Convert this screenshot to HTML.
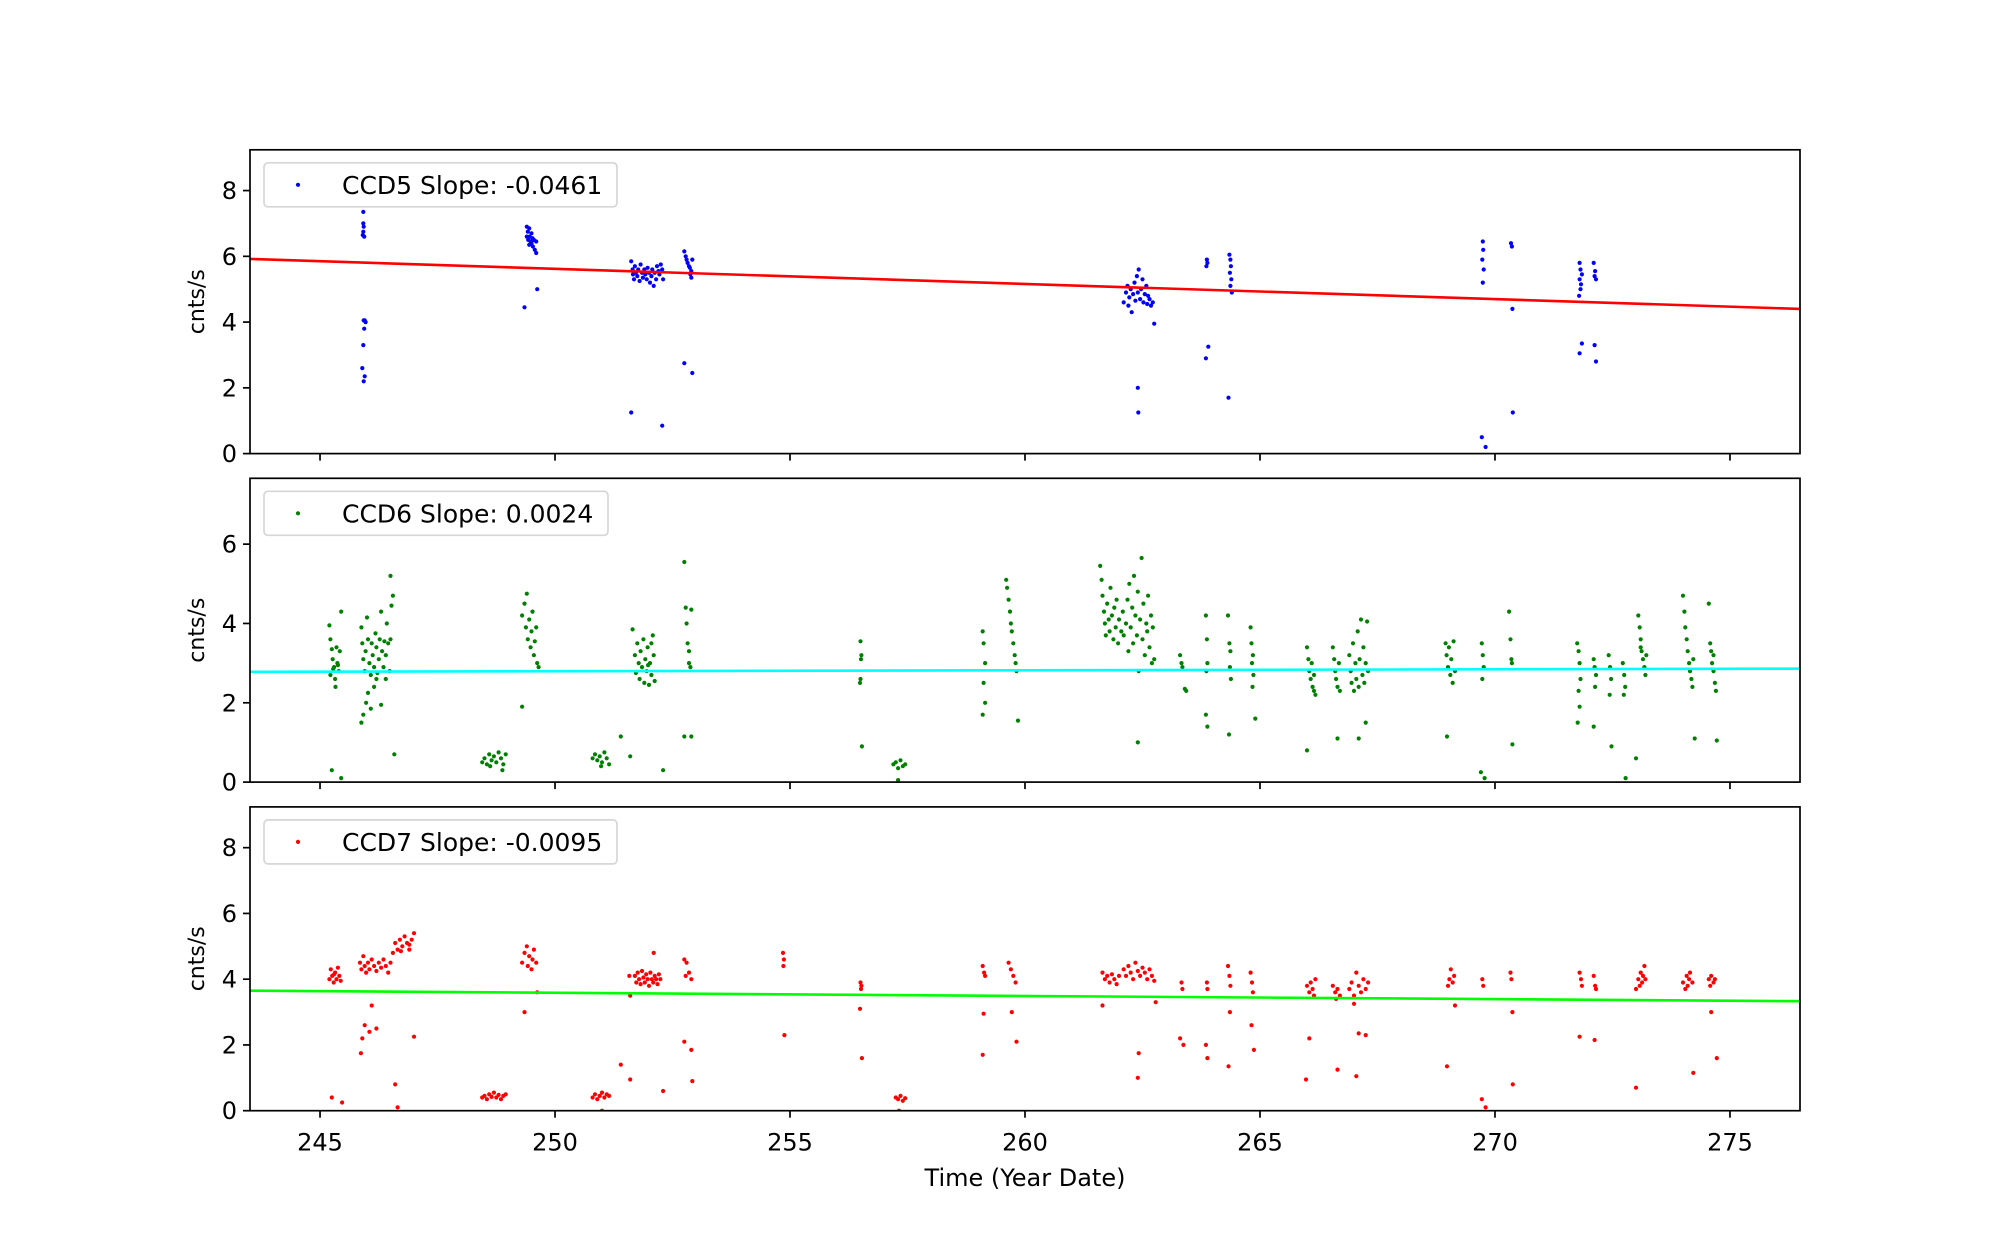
<!DOCTYPE html>
<html><head><meta charset="utf-8"><style>
html,body{margin:0;padding:0;background:#fff;}
svg{display:block;font-family:"DejaVu Sans","Liberation Sans",sans-serif;}
</style></head><body>
<svg id="chart" width="2000" height="1248" viewBox="0 0 2000 1248">
<rect width="2000" height="1248" fill="#fff"/>
</svg>
<script>
const xTicks = [245, 250, 255, 260, 265, 270, 275];
const yTicks1 = [0, 2, 4, 6, 8];
const yTicks2 = [0, 2, 4, 6];
const yTicks3 = [0, 2, 4, 6, 8];
const legendLabels = ["CCD5 Slope: -0.0461", "CCD6 Slope: 0.0024", "CCD7 Slope: -0.0095"];
const fit1 = [[243.51, 5.92], [276.49, 4.40]];
const fit2 = [[243.51, 2.78], [276.49, 2.86]];
const fit3 = [[243.51, 3.65], [276.49, 3.33]];
const ccd5 = [
[245.92,7.35],[245.92,7.0],[245.93,6.9],[245.92,6.75],[245.91,6.65],[245.94,6.6],[245.93,4.05],[245.95,4.05],[245.97,4.0],[245.94,3.8],[245.92,3.3],[245.9,2.6],[245.95,2.35],[245.93,2.2],
[249.4,6.9],[249.45,6.85],[249.42,6.75],[249.5,6.7],[249.4,6.6],[249.46,6.6],[249.52,6.55],[249.43,6.5],[249.48,6.45],[249.55,6.5],[249.5,6.4],[249.45,6.35],[249.53,6.3],[249.6,6.45],[249.57,6.2],[249.6,6.1],[249.35,4.45],[249.62,5.0],
[251.62,5.85],[251.65,5.6],[251.66,5.45],[251.68,5.3],[251.7,5.7],[251.72,5.5],[251.75,5.4],[251.77,5.6],[251.8,5.25],[251.82,5.75],[251.85,5.5],[251.87,5.35],[251.9,5.6],[251.92,5.45],[251.95,5.3],[251.97,5.65],[252.0,5.5],[252.02,5.2],[252.05,5.4],[252.07,5.6],[252.1,5.1],[252.12,5.5],[252.15,5.3],[252.17,5.7],[252.2,5.55],[252.22,5.45],[252.25,5.75],[252.28,5.6],[252.3,5.3],[251.62,1.25],[252.28,0.85],
[252.75,6.15],[252.78,6.0],[252.8,5.9],[252.82,5.8],[252.85,5.7],[252.87,5.65],[252.9,5.55],[252.92,5.9],[252.88,5.45],[252.9,5.35],[252.75,2.75],[252.92,2.45],
[262.1,4.6],[262.15,4.9],[262.18,5.1],[262.2,4.5],[262.22,4.75],[262.25,5.0],[262.27,4.3],[262.3,4.85],[262.33,5.2],[262.35,4.65],[262.38,5.4],[262.4,4.9],[262.42,5.6],[262.45,4.7],[262.47,5.0],[262.5,5.3],[262.52,4.6],[262.55,4.85],[262.58,5.1],[262.6,4.55],[262.62,4.8],[262.65,4.7],[262.68,4.5],[262.72,4.6],[262.4,2.0],[262.41,1.25],[262.75,3.95],
[263.87,5.9],[263.88,5.8],[263.86,5.7],[263.9,3.25],[263.85,2.9],[264.35,6.05],[264.37,5.9],[264.38,5.7],[264.36,5.5],[264.39,5.3],[264.37,5.1],[264.4,4.9],[264.33,1.7],
[269.74,6.45],[269.75,6.2],[269.73,5.9],[269.76,5.6],[269.74,5.2],[269.72,0.5],[269.8,0.2],[270.34,6.4],[270.36,6.3],[270.37,4.4],[270.38,1.25],
[271.8,5.8],[271.82,5.6],[271.85,5.45],[271.8,5.3],[271.83,5.15],[271.82,5.0],[271.79,4.8],[271.85,3.35],[271.8,3.05],[272.1,5.8],[272.13,5.55],[272.12,5.4],[272.15,5.3],[272.12,3.3],[272.15,2.8]
];
const ccd6 = [
[245.2,3.95],[245.22,3.6],[245.25,3.35],[245.27,3.1],[245.3,2.9],[245.22,2.7],[245.32,2.6],[245.35,3.4],[245.37,3.0],[245.28,2.85],[245.4,2.8],[245.42,3.3],[245.45,4.3],[245.33,2.4],[245.38,2.95],[245.25,0.3],[245.45,0.1],
[245.88,3.9],[245.9,3.5],[245.92,3.1],[245.95,2.8],[245.97,3.3],[246.0,4.15],[246.02,3.6],[246.05,3.0],[246.08,2.7],[246.1,3.5],[246.12,3.2],[246.15,2.9],[246.18,3.75],[246.2,3.4],[246.22,2.75],[246.25,3.1],[246.27,3.6],[246.3,4.3],[246.32,3.3],[246.35,2.9],[246.37,3.55],[246.4,3.2],[246.42,4.0],[246.45,3.5],[246.48,2.8],[246.5,3.6],[246.52,4.45],[246.55,4.7],[246.5,5.2],[245.88,1.5],[245.92,1.7],[245.98,2.0],[246.02,2.25],[246.08,1.85],[246.15,2.4],[246.2,2.6],[246.3,1.95],[246.4,2.6],[246.58,0.7],
[248.45,0.5],[248.5,0.6],[248.55,0.45],[248.6,0.7],[248.65,0.55],[248.7,0.65],[248.75,0.5],[248.8,0.75],[248.85,0.6],[248.9,0.45],[248.95,0.7],[248.62,0.4],[248.88,0.3],
[249.3,4.2],[249.35,4.5],[249.4,4.75],[249.38,3.9],[249.42,3.6],[249.45,4.1],[249.48,3.4],[249.5,3.8],[249.52,4.3],[249.55,3.2],[249.57,3.55],[249.6,3.9],[249.62,3.0],[249.65,2.9],[249.3,1.9],
[250.8,0.6],[250.85,0.7],[250.9,0.55],[250.95,0.65],[251.0,0.5],[251.05,0.75],[251.1,0.6],[251.15,0.45],[250.98,0.4],
[251.4,1.15],[251.6,0.65],[251.65,3.85],[251.7,3.2],[251.72,2.75],[251.75,3.5],[251.78,3.0],[251.8,2.6],[251.82,3.3],[251.85,2.9],[251.88,3.6],[251.9,2.5],[251.92,3.1],[251.95,2.8],[251.97,3.4],[252.0,2.45],[252.02,3.0],[252.05,2.7],[252.08,3.7],[252.1,3.2],[252.12,2.55],[252.05,3.5],[251.98,2.95],[252.3,0.3],
[252.75,5.55],[252.78,4.4],[252.8,4.0],[252.82,3.5],[252.85,3.0],[252.88,2.9],[252.9,4.35],[252.85,3.3],[252.75,1.15],[252.9,1.15],
[256.5,3.55],[256.52,3.2],[256.51,3.1],[256.5,2.6],[256.49,2.5],[256.53,0.9],
[257.2,0.45],[257.25,0.5],[257.3,0.35],[257.35,0.55],[257.4,0.4],[257.45,0.45],[257.3,0.05],
[259.1,3.8],[259.12,3.5],[259.15,3.0],[259.12,2.5],[259.15,2.0],[259.1,1.7],
[259.6,5.1],[259.62,4.9],[259.65,4.6],[259.68,4.3],[259.7,4.0],[259.72,3.8],[259.75,3.5],[259.78,3.2],[259.8,3.0],[259.82,2.8],[259.85,1.55],
[261.6,5.45],[261.63,5.1],[261.65,4.7],[261.68,4.3],[261.7,4.0],[261.72,3.7],[261.75,4.5],[261.78,4.1],[261.8,3.8],[261.82,4.9],[261.85,4.2],[261.88,3.6],[261.9,4.4],[261.93,3.9],[261.95,4.6],[261.98,3.5],[262.0,4.1],[262.05,3.8],[262.08,4.3],[262.1,3.7],
[262.15,4.0],[262.18,4.6],[262.2,3.3],[262.22,5.0],[262.25,3.9],[262.28,4.4],[262.3,3.5],[262.32,5.2],[262.35,4.2],[262.38,3.7],[262.4,4.8],[262.42,2.8],[262.45,4.1],[262.48,5.65],[262.5,3.6],[262.52,4.5],[262.55,3.2],[262.58,4.0],[262.6,3.8],[262.62,4.7],[262.65,3.4],[262.68,4.2],[262.7,3.0],[262.72,3.9],[262.75,3.1],[262.4,1.0],
[263.3,3.2],[263.33,3.0],[263.35,2.9],[263.4,2.35],[263.43,2.3],
[263.85,4.2],[263.87,3.6],[263.88,3.0],[263.86,2.8],[263.85,1.7],[263.88,1.4],
[264.32,4.2],[264.35,3.5],[264.37,3.3],[264.36,2.9],[264.38,2.6],[264.34,1.2],
[264.8,3.9],[264.82,3.5],[264.85,3.2],[264.83,3.0],[264.86,2.7],[264.84,2.4],[264.9,1.6],
[266.0,3.4],[266.03,3.1],[266.05,2.8],[266.08,2.6],[266.1,3.0],[266.12,2.4],[266.15,2.7],[266.18,2.2],[266.0,0.8],[266.15,2.3],
[266.55,3.4],[266.58,3.1],[266.6,2.8],[266.62,2.6],[266.65,2.4],[266.68,3.0],[266.7,2.3],[266.65,1.1],
[266.9,3.2],[266.93,2.8],[266.95,2.5],[266.98,3.5],[267.0,2.3],[267.03,3.0],[267.05,2.6],[267.08,3.8],[267.1,2.4],[267.12,3.1],[267.15,4.1],[267.18,2.7],[267.2,3.4],[267.22,2.5],[267.25,3.0],[267.28,4.05],[267.3,2.8],[267.1,1.1],[267.25,1.5],
[268.95,3.5],[268.97,3.2],[269.0,2.9],[269.02,3.4],[269.05,2.7],[269.07,3.1],[269.1,2.5],[269.12,3.55],[269.15,2.8],[268.98,1.15],
[269.72,3.5],[269.74,3.2],[269.76,2.9],[269.73,2.6],[269.7,0.25],[269.78,0.1],
[270.3,4.3],[270.33,3.6],[270.35,3.1],[270.36,3.0],[270.37,0.95],
[271.75,3.5],[271.78,3.3],[271.8,3.0],[271.82,2.6],[271.78,2.3],[271.8,1.9],[271.76,1.5],
[272.1,3.1],[272.12,2.9],[272.15,2.7],[272.13,2.4],[272.1,1.4],
[272.42,3.2],[272.45,2.9],[272.47,2.6],[272.44,2.2],[272.48,0.9],
[272.72,3.0],[272.75,2.7],[272.77,2.4],[272.74,2.2],[272.78,0.1],
[273.0,0.6],[273.05,4.2],[273.08,3.9],[273.1,3.6],[273.12,3.3],[273.15,3.1],[273.18,2.9],[273.2,2.7],[273.1,3.4],[273.22,3.2],
[274.0,4.7],[274.03,4.3],[274.05,3.9],[274.08,3.6],[274.1,3.3],[274.13,3.0],[274.15,2.8],[274.18,2.6],[274.2,2.4],[274.22,3.1],[274.25,1.1],
[274.55,4.5],[274.58,3.5],[274.6,3.3],[274.62,3.0],[274.65,2.8],[274.68,2.5],[274.7,2.3],[274.65,3.2],[274.72,1.05]
];
const ccd7 = [
[245.2,4.0],[245.23,4.3],[245.26,4.1],[245.29,3.9],[245.32,4.2],[245.35,4.0],[245.38,4.35],[245.41,4.1],[245.44,3.95],[245.3,4.15],[245.25,0.4],[245.47,0.25],
[245.85,4.5],[245.88,4.3],[245.92,4.7],[245.95,4.4],[245.98,4.2],[246.02,4.5],[246.05,4.3],[246.1,4.6],[246.15,4.4],[246.2,4.25],[246.25,4.5],[246.3,4.35],[246.35,4.6],[246.4,4.4],[246.45,4.2],[246.5,4.5],[246.55,4.8],[246.6,5.1],[246.65,4.9],[246.7,5.2],[246.75,5.0],[246.8,5.3],[246.85,5.1],[246.9,4.9],[246.95,5.2],[247.0,5.4],[246.72,4.85],[246.9,5.05],
[245.87,1.75],[245.95,2.6],[245.9,2.2],[246.05,2.4],[246.1,3.2],[246.2,2.5],[246.6,0.8],[246.65,0.1],[247.0,2.25],
[248.45,0.4],[248.5,0.45],[248.55,0.35],[248.6,0.5],[248.65,0.42],[248.7,0.55],[248.75,0.4],[248.8,0.48],[248.85,0.35],[248.9,0.45],[248.95,0.5],
[249.3,4.5],[249.35,4.8],[249.4,5.0],[249.42,4.4],[249.45,4.7],[249.5,4.3],[249.52,4.6],[249.55,4.9],[249.6,4.5],[249.35,3.0],[249.62,3.6],
[250.8,0.4],[250.85,0.5],[250.9,0.35],[250.95,0.45],[251.0,0.55],[251.05,0.4],[251.1,0.5],[251.15,0.45],[251.0,0.0],
[251.4,1.4],[251.6,3.5],[251.58,4.1],[251.6,0.95],
[251.7,4.1],[251.73,3.9],[251.76,4.2],[251.79,4.0],[251.82,3.85],[251.85,4.25],[251.88,4.05],[251.91,3.9],[251.94,4.15],[251.97,4.0],[252.0,3.8],[252.03,4.2],[252.06,4.0],[252.09,3.9],[252.12,4.1],[252.15,4.0],[252.18,3.85],[252.21,4.15],[252.24,4.0],[252.1,4.8],[252.3,0.6],
[252.75,4.6],[252.8,4.5],[252.85,4.2],[252.9,4.0],[252.78,4.1],[252.75,2.1],[252.9,1.85],[252.92,0.9],
[254.85,4.8],[254.87,4.6],[254.86,4.4],[254.88,2.3],
[256.5,3.9],[256.52,3.8],[256.51,3.7],[256.49,3.1],[256.53,1.6],
[257.25,0.4],[257.3,0.35],[257.35,0.45],[257.4,0.3],[257.45,0.38],[257.32,0.0],
[259.1,4.4],[259.13,4.2],[259.15,4.1],[259.12,2.95],[259.1,1.7],
[259.65,4.5],[259.7,4.3],[259.75,4.1],[259.8,3.9],[259.72,3.0],[259.82,2.1],
[261.65,4.2],[261.7,4.0],[261.75,4.1],[261.8,3.9],[261.85,4.15],[261.9,4.0],[261.95,3.85],[262.0,4.1],[262.1,4.3],[262.15,4.1],[262.2,4.4],[262.25,4.2],[262.3,4.0],[262.35,4.5],[262.4,4.25],[262.45,4.1],[262.5,4.35],[262.55,4.2],[262.6,4.0],[262.65,4.3],[262.7,4.1],[262.75,3.95],[261.65,3.2],[262.42,1.75],[262.4,1.0],[262.78,3.3],
[263.33,3.9],[263.35,3.7],[263.3,2.2],[263.37,2.0],
[263.87,3.9],[263.88,3.7],[263.85,2.0],[263.88,1.6],
[264.32,4.4],[264.35,4.1],[264.37,3.8],[264.36,3.0],[264.33,1.35],
[264.8,4.2],[264.83,3.9],[264.85,3.6],[264.82,2.6],[264.87,1.85],
[266.0,3.8],[266.05,3.6],[266.08,3.9],[266.12,3.7],[266.15,3.5],[266.18,4.0],[266.05,2.2],[265.98,0.95],
[266.55,3.8],[266.6,3.6],[266.65,3.7],[266.7,3.5],[266.62,3.4],[266.65,1.25],
[266.9,3.7],[266.95,3.9],[267.0,3.5],[267.05,4.2],[267.1,3.8],[267.15,3.6],[267.2,4.0],[267.25,3.7],[267.3,3.9],[267.0,3.25],[267.1,2.35],[267.05,1.05],[267.25,2.3],
[269.0,3.8],[269.03,4.0],[269.06,4.3],[269.1,3.9],[269.13,4.1],[269.15,3.2],[268.98,1.35],
[269.73,4.0],[269.75,3.8],[269.72,0.35],[269.8,0.1],
[270.33,4.2],[270.35,4.0],[270.37,3.0],[270.38,0.8],
[271.8,4.2],[271.83,4.0],[271.85,3.8],[271.8,2.25],
[272.1,4.1],[272.13,3.8],[272.15,3.7],[272.12,2.15],
[273.0,3.7],[273.05,4.0],[273.08,3.8],[273.1,4.2],[273.13,3.9],[273.15,4.1],[273.18,4.4],[273.2,4.0],[273.0,0.7],
[274.0,3.9],[274.05,3.7],[274.08,4.1],[274.1,3.8],[274.13,4.0],[274.15,4.2],[274.2,3.9],[274.22,1.15],
[274.55,4.0],[274.58,3.8],[274.6,4.1],[274.65,3.9],[274.68,4.0],[274.6,3.0],[274.72,1.6]
];

const svg = document.getElementById('chart');
const NS = 'http://www.w3.org/2000/svg';
const L = 250, R = 1800, XMIN = 243.51, XMAX = 276.49;
function sx(v){ return L + (v - XMIN) / (XMAX - XMIN) * (R - L); }
function mk(tag, attrs, parent){ const e = document.createElementNS(NS, tag); for (const k in attrs) e.setAttribute(k, attrs[k]); (parent||svg).appendChild(e); return e; }

const panels = [
 {top:149.8, bot:453.6, ymax:9.24, yt:yTicks1, data:ccd5, col:'#0000ff', fit:fit1, fitCol:'#ff0000', label:legendLabels[0], name:'ccd5'},
 {top:478.3, bot:782.1, ymax:7.66, yt:yTicks2, data:ccd6, col:'#008000', fit:fit2, fitCol:'#00ffff', label:legendLabels[1], name:'ccd6'},
 {top:806.9, bot:1110.7, ymax:9.24, yt:yTicks3, data:ccd7, col:'#ff0000', fit:fit3, fitCol:'#00ff00', label:legendLabels[2], name:'ccd7'}
];

panels.forEach((p, i) => {
  const g = mk('g', {});
  
  
  const sy = v => p.bot - v / p.ymax * (p.bot - p.top);
  const clipId = 'clip' + i;
  const cp = mk('clipPath', {id: clipId}, g);
  mk('rect', {x:L, y:p.top, width:R-L, height:p.bot-p.top}, cp);
  const pts = mk('g', {'clip-path':'url(#' + clipId + ')', fill:p.col}, g);
  
  
  p.data.forEach(d => {
    const c = mk('circle', {cx:sx(d[0]).toFixed(1), cy:sy(d[1]).toFixed(1), r:2.1}, pts);
    
    
  });
  const fl = mk('line', {x1:sx(p.fit[0][0]), y1:sy(p.fit[0][1]), x2:sx(p.fit[1][0]), y2:sy(p.fit[1][1]), stroke:p.fitCol, 'stroke-width':2.6, 'clip-path':'url(#' + clipId + ')'}, g);
  
  
  const fr = mk('rect', {x:L, y:p.top, width:R-L, height:p.bot-p.top, fill:'none', stroke:'#000', 'stroke-width':1.7}, g);
  
  
  p.yt.forEach(t => {
    const y = sy(t);
    mk('line', {x1:L-7, x2:L, y1:y, y2:y, stroke:'#000', 'stroke-width':1.7}, g);
    const tx = mk('text', {x:L-13, y:y+8.5, 'text-anchor':'end', 'font-size':24}, g);
    tx.textContent = t;
    
    
  });
  xTicks.forEach(t => {
    const x = sx(t);
    mk('line', {x1:x, x2:x, y1:p.bot, y2:p.bot+7, stroke:'#000', 'stroke-width':1.7}, g);
    if (i === 2) {
      const tx = mk('text', {x:x, y:p.bot+40, 'text-anchor':'middle', 'font-size':24}, g);
      tx.textContent = t;
      
      
    }
  });
  const yl = mk('text', {x:0, y:0, 'text-anchor':'middle', 'font-size':22, transform:'translate(204,' + ((p.top+p.bot)/2) + ') rotate(-90)'}, g);
  yl.textContent = 'cnts/s';
  
  
  const lg = mk('g', {}, g);
  
  
  const lw = i === 1 ? 344 : 353;
  mk('rect', {x:L+14, y:p.top+13, width:lw, height:44, rx:4, fill:'#fff', 'fill-opacity':0.8, stroke:'#d6d6d6', 'stroke-width':1.7}, lg);
  mk('circle', {cx:L+48, cy:p.top+35, r:2.1, fill:p.col}, lg);
  const lt = mk('text', {x:L+92, y:p.top+44, 'font-size':25}, lg);
  lt.textContent = p.label;
  
  
});
const xl = mk('text', {x:1025, y:1186, 'text-anchor':'middle', 'font-size':24});
xl.textContent = 'Time (Year Date)';


</script>
</body></html>
